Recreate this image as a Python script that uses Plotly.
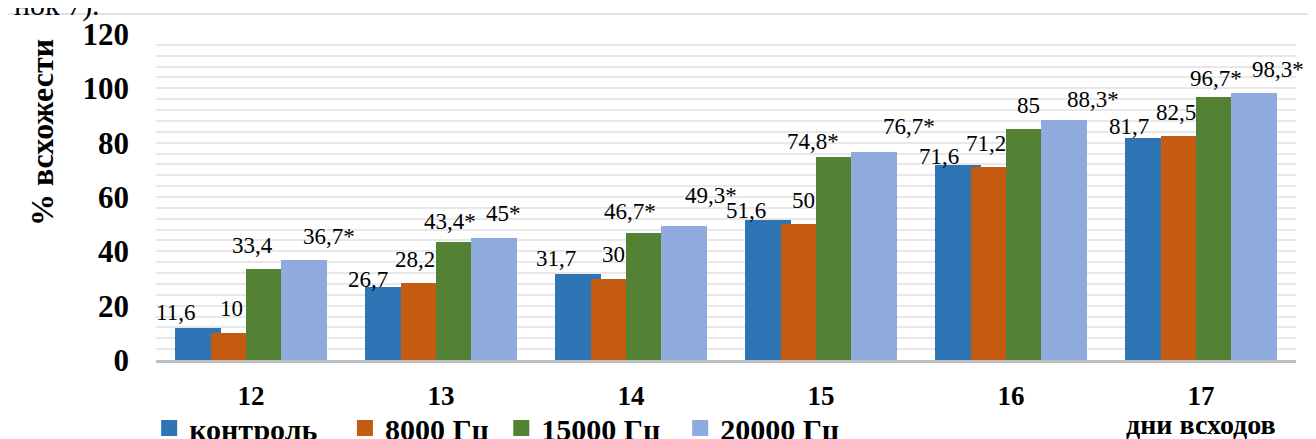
import plotly.graph_objects as go

# ---- data ----
DAYS = [12, 13, 14, 15, 16, 17]
DAY_LABELS = ["12", "13", "14", "15", "16", "17"]
SERIES_NAMES = ["контроль", "8000 Гц", "15000 Гц", "20000 Гц"]
CONTROL = [11.6, 26.7, 31.7, 51.6, 71.6, 81.7]
HZ8000 = [10, 28.2, 30, 50, 71.2, 82.5]
HZ15000 = [33.4, 43.4, 46.7, 74.8, 85, 96.7]
HZ20000 = [36.7, 45, 49.3, 76.7, 88.3, 98.3]
CONTROL_TXT = ["11,6", "26,7", "31,7", "51,6", "71,6", "81,7"]
HZ8000_TXT = ["10", "28,2", "30", "50", "71,2", "82,5"]
HZ15000_TXT = ["33,4", "43,4*", "46,7*", "74,8*", "85", "96,7*"]
HZ20000_TXT = ["36,7*", "45*", "49,3*", "76,7*", "88,3*", "98,3*"]
Y_TICKS = [0, 20, 40, 60, 80, 100, 120]

# ---- style ----
COLORS = ["#2E75B6", "#C55A11", "#548235", "#8FAADC"]
BAR_W = 0.242
OFFSETS = [-0.398, -0.213, -0.028, 0.157]
# label nudges (px) relative to bar centre / bar top
LABEL_DX = [
    [-23, -20, -22, -22, -19, -19],
    [-2, -9, 0, 0, -8, -8],
    [-16, -9, -19, -26, 0, -3],
    [25, 10, 27, 35, 29, 24],
]
LABEL_GAP = [
    [8, 0, 8, 2, 1, 4],
    [17, 16, 17, 16, 16, 16],
    [16, 13, 14, 8, 16, 11],
    [16, 17, 23, 18, 13, 16],
]
LEGEND_PAD = [3, 1, 2, 0]  # trailing non-breaking spaces for legend spacing
SERIF = "Liberation Serif"
BASE_DESC = 7

values = [CONTROL, HZ8000, HZ15000, HZ20000]
texts = [CONTROL_TXT, HZ8000_TXT, HZ15000_TXT, HZ20000_TXT]

fig = go.Figure()
for i, (name, vals) in enumerate(zip(SERIES_NAMES, values)):
    fig.add_trace(go.Bar(
        x=DAYS, y=vals, width=BAR_W, offset=OFFSETS[i],
        marker=dict(color=COLORS[i], line=dict(width=0)),
        name=name, showlegend=False, hoverinfo="skip",
    ))
# legend entries
for i, name in enumerate(SERIES_NAMES):
    fig.add_trace(go.Scatter(
        x=[None], y=[None], mode="markers",
        name=f"<b>{name}</b>" + "\u00a0" * LEGEND_PAD[i],
        marker=dict(symbol="square", size=17, color=COLORS[i]),
        showlegend=True,
    ))

annotations = []
for i in range(4):
    for j, d in enumerate(DAYS):
        annotations.append(dict(
            x=d + OFFSETS[i] + BAR_W / 2, y=values[i][j], xref="x", yref="y",
            text=texts[i][j], showarrow=False, xanchor="center", yanchor="bottom",
            xshift=LABEL_DX[i][j], yshift=LABEL_GAP[i][j] - BASE_DESC,
            font=dict(family=SERIF, size=23, color="#000000"),
        ))

annotations.append(dict(
    x=-0.1, y=0.696, xref="paper", yref="paper", text="<b>% всхожести</b>",
    textangle=-90, showarrow=False, xanchor="center", yanchor="middle",
    font=dict(family=SERIF, size=32, color="#000000"),
))
annotations.append(dict(
    x=0.9167, y=-0.198, xref="paper", yref="paper", text="<b>дни всходов</b>",
    showarrow=False, xanchor="center", yanchor="middle",
    font=dict(family=SERIF, size=28, color="#000000"),
))
annotations.append(dict(
    x=-0.1263, y=1.03, xref="paper", yref="paper", text="нок 7).",
    showarrow=False, xanchor="left", yanchor="bottom",
    font=dict(family=SERIF, size=30, color="#000000"),
))

# the page body adds an 8px offset; figure is sized/margined to compensate
fig.update_layout(
    width=1308, height=431,
    margin=dict(l=148, r=20, t=26, b=79, autoexpand=False),
    paper_bgcolor="#FFFFFF", plot_bgcolor="#FFFFFF",
    barmode="overlay", bargap=0,
    annotations=annotations,
    showlegend=True,
    legend=dict(
        orientation="h", x=-0.006, y=-0.2086, xanchor="left", yanchor="middle",
        font=dict(family=SERIF, size=30, color="#000000"),
        itemsizing="trace", tracegroupgap=0, bgcolor="rgba(0,0,0,0)",
    ),
    shapes=[dict(
        type="rect", xref="paper", yref="paper",
        x0=-0.1307, x1=1.0123, y0=-0.35, y1=1.0613,
        line=dict(color="#D9D9D9", width=1.5), fillcolor="rgba(0,0,0,0)", layer="below",
    )],
)
fig.update_xaxes(
    range=[11.5, 17.5], tickvals=DAYS, ticktext=[f"<b>{t}</b>" for t in DAY_LABELS],
    tickfont=dict(family=SERIF, size=27, color="#000000"),
    showgrid=False, zeroline=False, showline=True, linecolor="#BFBFBF", linewidth=3,
    ticks="", ticklabelstandoff=10, automargin=False,
)
fig.update_yaxes(
    range=[0, 120], tickvals=Y_TICKS, ticktext=[f"<b>{t}</b>" for t in Y_TICKS],
    tickfont=dict(family=SERIF, size=31, color="#000000"),
    showgrid=True, gridcolor="#E8E8E8", gridwidth=1.5,
    minor=dict(dtick=4, tick0=0, showgrid=True, gridcolor="#E8E8E8", gridwidth=1.5),
    zeroline=False, showline=False, ticks="", ticklabelstandoff=26, automargin=False,
)

fig.write_html("out.html")
